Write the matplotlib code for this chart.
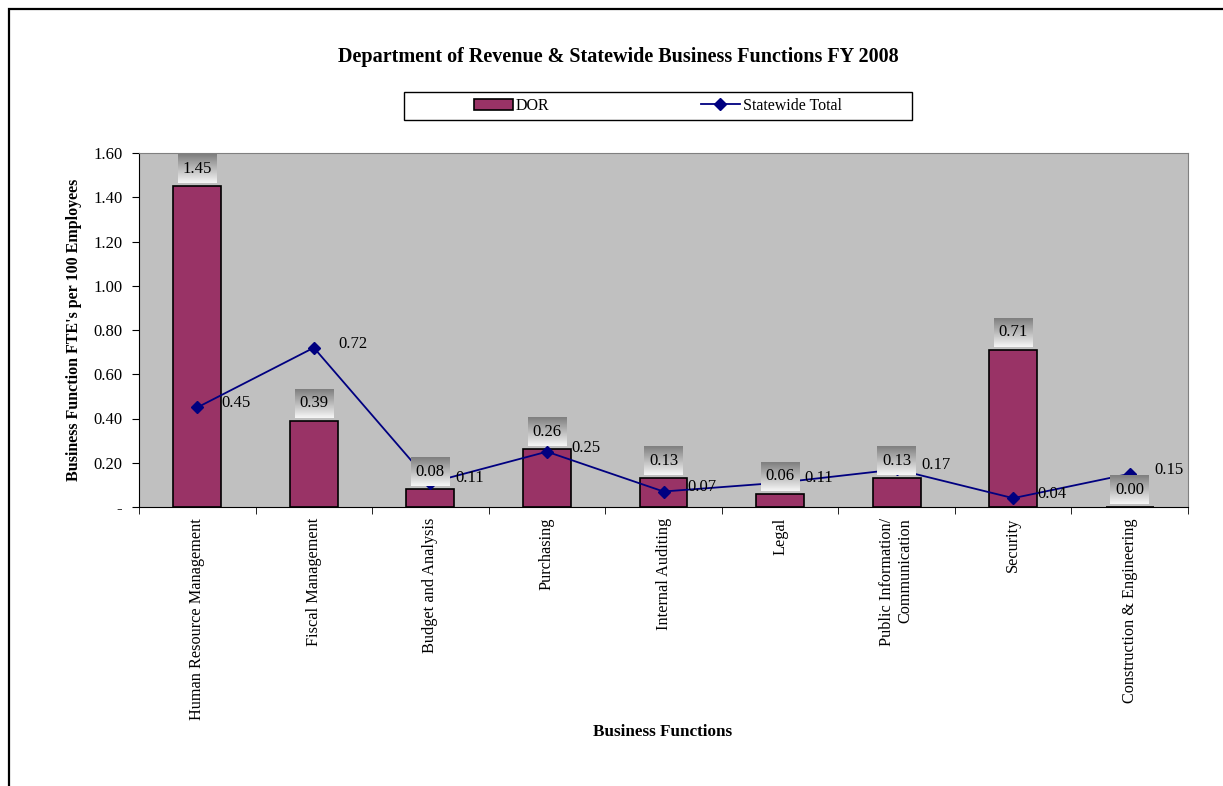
import matplotlib.pyplot as plt
import numpy as np
from matplotlib.patches import Rectangle

plt.rcParams["font.family"] = ["Liberation Serif", "DejaVu Serif"]

categories = [
    "Human Resource Management",
    "Fiscal Management",
    "Budget and Analysis",
    "Purchasing",
    "Internal Auditing",
    "Legal",
    "Public Information/\nCommunication",
    "Security",
    "Construction & Engineering",
]
dor = [1.45, 0.39, 0.08, 0.26, 0.13, 0.06, 0.13, 0.71, 0.00]
statewide = [0.45, 0.72, 0.11, 0.25, 0.07, 0.11, 0.17, 0.04, 0.15]
yticks = [0.0, 0.2, 0.4, 0.6, 0.8, 1.0, 1.2, 1.4, 1.6]

W, H = 1223, 786
fig = plt.figure(figsize=(W / 100, H / 100), dpi=100)

# chart area border (cropped on the right and bottom in the original)
fig.patches.append(Rectangle((9 / W, -0.2), 1.2, 1.2 - 9 / H, transform=fig.transFigure,
                             fill=False, edgecolor="black", linewidth=1.6))

ax = fig.add_axes([139 / W, 1 - 507 / H, (1188 - 139) / W, (507 - 153) / H])
ax.set_facecolor("#C0C0C0")

x = np.arange(len(categories))
bars = ax.bar(x, dor, width=0.41, color="#993366", edgecolor="black", linewidth=1.2, zorder=2)
line, = ax.plot(x, statewide, color="#000080", marker="D", markersize=6, linewidth=1.3, zorder=4)

# gradient label boxes above the bars
grad = np.linspace(0.5, 0.96, 32).reshape(-1, 1)
bw, bh = 0.33, 0.13
for xi, v in zip(x, dor):
    b0 = v + 0.014
    ax.imshow(grad, cmap="gray", vmin=0, vmax=1, extent=(xi - bw / 2, xi + bw / 2, b0, b0 + bh),
              aspect="auto", origin="upper", zorder=5)
    ax.text(xi, b0 + bh * 0.5, f"{v:.2f}", ha="center", va="center", fontsize=12, zorder=6)
ax.set_xlim(-0.5, len(categories) - 0.5)
ax.set_ylim(0, 1.6)

for xi, v in zip(x, statewide):
    ax.annotate(f"{v:.2f}", (xi, v), xytext=(28, 3), textcoords="offset points",
                ha="center", va="center", fontsize=12, zorder=6)

ax.set_yticks(yticks)
ax.set_yticklabels(["-" if t == 0 else f"{t:.2f}" for t in yticks], fontsize=12)
ax.set_xticks(x)
ax.set_xticklabels(categories, rotation=90, fontsize=11.7, va="top", ha="center",
                   multialignment="right")
ax.tick_params(axis="x", which="major", length=0, pad=8)
ax.set_xticks(np.arange(len(categories) + 1) - 0.5, minor=True)
ax.tick_params(axis="x", which="minor", length=5, direction="out", color="black")
ax.tick_params(axis="y", length=5, direction="out", pad=7)

for s in ["top", "right"]:
    ax.spines[s].set_color("#808080")
ax.spines["left"].set_color("black")
ax.spines["bottom"].set_color("black")

ax.set_ylabel("Business Function FTE's per 100 Employees", fontsize=11.5, fontweight="bold", labelpad=8)
fig.text(663 / W, 1 - 732 / H, "Business Functions", ha="center", va="center", fontsize=12.3,
         fontweight="bold")
fig.text(618 / W, 1 - 57 / H, "Department of Revenue & Statewide Business Functions FY 2008",
         ha="center", va="center", fontsize=14.5, fontweight="bold")

# legend: frame drawn separately, entries centred inside it
fig.patches.append(Rectangle((404 / W, 1 - 120 / H), 508 / W, 28 / H, transform=fig.transFigure,
                             fill=False, edgecolor="black", linewidth=1.0))
fig.legend([bars, line], ["DOR", "Statewide Total"], loc="center", ncol=2,
           bbox_to_anchor=(658 / W, 1 - 106 / H), frameon=False, fontsize=11.5,
           handlelength=2.4, handletextpad=0.2, columnspacing=9.5, borderaxespad=0)

fig.savefig("out.png", dpi=100)
